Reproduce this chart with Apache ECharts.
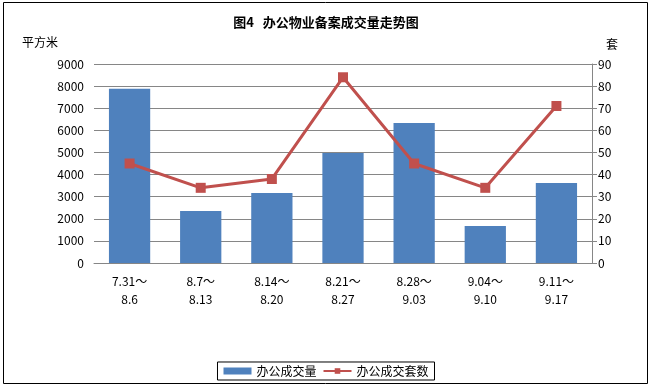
<!DOCTYPE html>
<html><head><meta charset="utf-8">
<script src="https://cdn.jsdelivr.net/npm/echarts@6/dist/echarts.min.js"></script>
<style>html,body{margin:0;padding:0;background:#fff}#c{width:652px;height:388px}</style>
</head><body><div id="c"></div>
<script>
var categories = ['7.31～\n8.6','8.7～\n8.13','8.14～\n8.20','8.21～\n8.27','8.28～\n9.03','9.04～\n9.10','9.11～\n9.17'];
var areaValues = [7880, 2350, 3170, 4980, 6330, 1670, 3620];
var unitValues = [45, 34, 38, 84, 45, 34, 71];
var leftTicks = [0, 9000, 1000];
var rightTicks = [0, 90, 10];

var font = '"Noto Sans CJK SC", sans-serif';
var chart = echarts.init(document.getElementById('c'));
chart.setOption({
  animation: false,
  textStyle: {fontFamily: font},
  title: {text: '图4   办公物业备案成交量走势图', left: 'center', top: 11,
    textStyle: {fontSize: 13, fontWeight: 'bold', color: '#000', fontFamily: font}},
  graphic: [
    {type: 'rect', shape: {x: 3.5, y: 2.5, width: 644, height: 381}, style: {fill: 'none', stroke: '#000', lineWidth: 1}},
    {type: 'text', left: 22, top: 36, style: {text: '平方米', fontSize: 12, fill: '#000', fontFamily: font}},
    {type: 'text', left: 606, top: 38, style: {text: '套', fontSize: 12, fill: '#000', fontFamily: font}}
  ],
  legend: {
    bottom: 8, left: 'center', itemGap: 6, itemWidth: 28, itemHeight: 7,
    borderColor: '#000', borderWidth: 1, padding: [3, 6], borderRadius: 0,
    textStyle: {fontSize: 12, color: '#000', fontFamily: font},
    data: [{name: '办公成交量', icon: 'rect'}, {name: '办公成交套数'}]
  },
  grid: {left: 94, right: 60, top: 64, bottom: 125},
  xAxis: {type: 'category', data: categories,
    axisLine: {lineStyle: {color: '#868686'}}, axisTick: {show: false},
    axisLabel: {color: '#000', fontSize: 12, lineHeight: 18, margin: 9, interval: 0, fontFamily: font}},
  yAxis: [
    {type: 'value', min: leftTicks[0], max: leftTicks[1], interval: leftTicks[2],
      axisLine: {show: false}, axisTick: {show: false},
      axisLabel: {color: '#000', fontSize: 12, margin: 10, fontFamily: font, formatter: function (v) { return String(v); }},
      splitLine: {lineStyle: {color: '#868686'}}},
    {type: 'value', min: rightTicks[0], max: rightTicks[1], interval: rightTicks[2],
      axisLine: {show: true, lineStyle: {color: '#868686'}},
      axisTick: {show: true, inside: false, length: 5, lineStyle: {color: '#868686'}},
      axisLabel: {color: '#000', fontSize: 12, margin: 6, fontFamily: font},
      splitLine: {show: false}}
  ],
  series: [
    {name: '办公成交量', type: 'bar', data: areaValues, barWidth: '58%', yAxisIndex: 0,
      itemStyle: {color: '#4F81BD'}},
    {name: '办公成交套数', type: 'line', data: unitValues, yAxisIndex: 1,
      symbol: 'rect', symbolSize: 10,
      lineStyle: {color: '#C0504D', width: 3}, itemStyle: {color: '#C0504D'}}
  ]
});
</script></body></html>
